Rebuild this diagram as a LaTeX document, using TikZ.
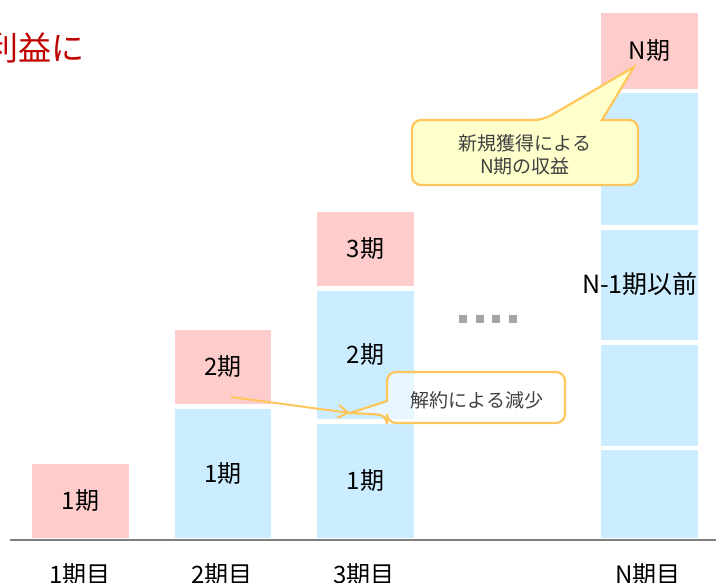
\documentclass[tikz,border=0pt]{standalone}
\usepackage{fontspec}
\setmainfont{Noto Sans CJK JP}
\usetikzlibrary{arrows.meta}
\definecolor{pinkc}{RGB}{255,204,204}
\definecolor{bluec}{RGB}{204,236,255}
\definecolor{orangec}{RGB}{255,198,92}
\definecolor{yellowc}{RGB}{255,255,204}
\definecolor{titlered}{RGB}{192,0,0}
\definecolor{txtgray}{RGB}{64,64,64}
\definecolor{axisgray}{RGB}{128,128,128}
\definecolor{dotgray}{RGB}{166,166,166}
\begin{document}
\begin{tikzpicture}[x=1pt,y=-1pt,
  blk/.style={rectangle, inner sep=0pt, font=\fontsize{24}{28}\selectfont, text=black},
  pinkblk/.style={blk, fill=pinkc},
  blueblk/.style={blk, fill=bluec},
  axlabel/.style={anchor=base, inner sep=0pt, text=black, font=\fontsize{24}{28}\selectfont},
  callout/.style={draw=orangec, line width=2.2pt, rounded corners=9pt},
  ctext/.style={text=txtgray, font=\fontsize{19}{23}\selectfont, align=center, inner sep=0pt},
  sqdot/.style={rectangle, fill=dotgray, minimum size=8pt, inner sep=0pt},
  decarrow/.style={draw=orangec, line width=2pt, -{Straight Barb[length=10pt,width=13pt]}}
]
\useasboundingbox (0,0) rectangle (716,582);

% title (clipped at left edge)
\node[anchor=base east, inner sep=0pt, text=titlered, font=\fontsize{33}{40}\selectfont] (title) at (85,60) {利益に};

% column 1
\node[pinkblk, minimum width=97pt, minimum height=74pt] (c1p) at (80.5,501) {1期};

% column 2
\node[pinkblk, minimum width=96pt, minimum height=74pt] (c2p) at (223,367) {2期};
\node[blueblk, minimum width=96pt, minimum height=129pt] (c2b1) at (223,473.5) {1期};

% column 3
\node[pinkblk, minimum width=97pt, minimum height=74pt] (c3p) at (365.5,249) {3期};
\node[blueblk, minimum width=97pt, minimum height=128pt] (c3b2) at (365.5,355) {2期};
\node[blueblk, minimum width=97pt, minimum height=114pt] (c3b1) at (365.5,481) {1期};

% column N
\node[pinkblk, minimum width=97pt, minimum height=76pt] (cNp) at (649.5,51) {N期};
\node[blueblk, minimum width=97pt, minimum height=132pt] (cNb4) at (649.5,159) {};
\node[blueblk, minimum width=97pt, minimum height=110pt] (cNb3) at (649.5,285) {};
\node[blueblk, minimum width=97pt, minimum height=101pt] (cNb2) at (649.5,395.5) {};
\node[blueblk, minimum width=97pt, minimum height=88pt] (cNb1) at (649.5,494) {};
\node[blk, fill=none, font=\fontsize{25}{28}\selectfont] (prev) at (640,284) {N-1期以前};

% dots
\node[sqdot] (d1) at (463,319) {};
\node[sqdot] (d2) at (480,319) {};
\node[sqdot] (d3) at (496,319) {};
\node[sqdot] (d4) at (513,319) {};

% axis
\coordinate (axL) at (10,540);
\coordinate (axR) at (716,540);
\draw[axisgray, line width=2.5pt] (axL) -- (axR);
\node[axlabel] (l1) at (80,583) {1期目};
\node[axlabel] (l2) at (222,583) {2期目};
\node[axlabel] (l3) at (364,583) {3期目};
\node[axlabel] (lN) at (648,583) {N期目};

% callout: new acquisition
\coordinate (tipN) at (634,67);
\draw[callout, fill=yellowc] (412,150) -- (412,120) -- (543,120) [sharp corners] -- (tipN) -- (602,120) [rounded corners=9pt] -- (638,120) -- (638,185) -- (412,185) -- cycle;
\node[ctext] (newc) at (525,155) {新規獲得による\\N期の収益};

% decrease arrow + callout
\coordinate (dec) at (350,413);
\coordinate (arrS) at (231,397);
\draw[decarrow] (arrS) -- (dec);
\draw[callout, fill=white, fill opacity=0.55] (476,372) -- (565,372) -- (565,423) -- (387,423) -- (387,415) [sharp corners] -- (dec) -- (387,401) [rounded corners=9pt] -- (387,372) -- cycle;
\node[ctext] (decc) at (477,400) {解約による減少};
\end{tikzpicture}
\end{document}
